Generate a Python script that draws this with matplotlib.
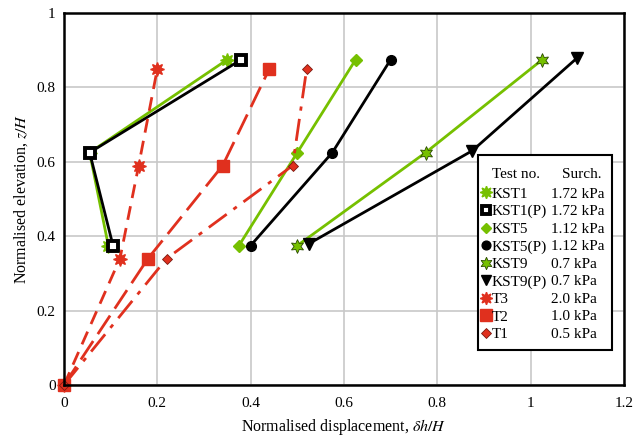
import matplotlib
matplotlib.use("Agg")
import matplotlib.pyplot as plt
from matplotlib.lines import Line2D
from matplotlib.patches import Rectangle

plt.rcParams['font.family'] = ['Liberation Serif', 'DejaVu Serif']
plt.rcParams['mathtext.fontset'] = 'stix'

GREEN = '#76c000'
RED = '#e0301e'
W, H = 643, 436

# series data (normalised displacement, normalised elevation)
kst1_x = [0.095, 0.055, 0.35]
kst1_y = [0.375, 0.625, 0.875]
kst1p_x = [0.105, 0.055, 0.38]
kst1p_y = [0.375, 0.625, 0.875]
kst5_x = [0.375, 0.50, 0.625]
kst5_y = [0.375, 0.625, 0.875]
kst5p_x = [0.40, 0.575, 0.70]
kst5p_y = [0.375, 0.625, 0.875]
kst9_x = [0.50, 0.775, 1.025]
kst9_y = [0.375, 0.625, 0.875]
kst9p_x = [0.525, 0.875, 1.10]
kst9p_y = [0.38, 0.63, 0.88]
t3_x = [0.0, 0.12, 0.16, 0.20]
t3_y = [0.0, 0.34, 0.59, 0.85]
t2_x = [0.0, 0.18, 0.34, 0.44]
t2_y = [0.0, 0.34, 0.59, 0.85]
t1_x = [0.0, 0.22, 0.49, 0.52]
t1_y = [0.0, 0.34, 0.59, 0.85]

names = ['KST1', 'KST1(P)', 'KST5', 'KST5(P)', 'KST9', 'KST9(P)', 'T3', 'T2', 'T1']
surch = ['1.72 kPa', '1.72 kPa', '1.12 kPa', '1.12 kPa', '0.7 kPa', '0.7 kPa',
         '2.0 kPa', '1.0 kPa', '0.5 kPa']

fig = plt.figure(figsize=(W / 100, H / 100), dpi=100)
ax = fig.add_axes([0.0995, 0.117, 0.871, 0.853])

styles = [
    dict(color=GREEN, marker=(8, 1, 0), ms=10, mfc=GREEN, mec=GREEN, ls='-'),
    dict(color='black', marker='s', ms=7, mfc='white', mec='black', mew=2.8, ls='-'),
    dict(color=GREEN, marker='D', ms=6, mfc=GREEN, mec=GREEN, ls='-'),
    dict(color='black', marker='o', ms=7, mfc='black', mec='black', ls='-'),
    dict(color=GREEN, marker=(6, 1, 0), ms=10, mfc=GREEN, mec='#2a4a00', mew=0.6, ls='-'),
    dict(color='black', marker='v', ms=8, mfc='black', mec='black', ls='-'),
    dict(color=RED, marker=(8, 1, 0), ms=10, mfc=RED, mec=RED, ls=(0, (5, 3))),
    dict(color=RED, marker='s', ms=9, mfc=RED, mec=RED, ls=(0, (8, 3))),
    dict(color=RED, marker='D', ms=5.5, mfc=RED, mec='#7a1a10', mew=0.6, ls=(0, (8, 3, 1.5, 3))),
]
xs = [kst1_x, kst1p_x, kst5_x, kst5p_x, kst9_x, kst9p_x, t3_x, t2_x, t1_x]
ys = [kst1_y, kst1p_y, kst5_y, kst5p_y, kst9_y, kst9p_y, t3_y, t2_y, t1_y]

for x, y, st in zip(xs, ys, styles):
    ax.plot(x, y, lw=2, zorder=3, clip_on=False, **st)

ax.set_xlim(0, 1.2)
ax.set_ylim(0, 1)
ax.set_xticks([0, 0.2, 0.4, 0.6, 0.8, 1, 1.2])
ax.set_xticklabels(['0', '0.2', '0.4', '0.6', '0.8', '1', '1.2'])
ax.set_yticks([0, 0.2, 0.4, 0.6, 0.8, 1])
ax.set_yticklabels(['0', '0.2', '0.4', '0.6', '0.8', '1'])
ax.tick_params(length=0, labelsize=11)
ax.tick_params(axis='x', pad=9)
ax.tick_params(axis='y', pad=6)
ax.grid(True, color='#c8c8c8', lw=1.2, zorder=0)
ax.set_axisbelow(True)
for s in ax.spines.values():
    s.set_linewidth(1.8)
    s.set_zorder(4)

ax.set_xlabel(r'Normalised displacement, $\delta h/H$', fontsize=11.5, labelpad=5)
ax.set_ylabel(r'Normalised elevation, $z/H$', fontsize=11.5, labelpad=5)

# legend box drawn by hand, entries as a two-column legend without frame
box = Rectangle((478 / W, 1 - 350 / H), 134 / W, 195 / H, transform=fig.transFigure,
                facecolor='white', edgecolor='black', lw=1.5, zorder=4.5, clip_on=False)
ax.add_patch(box)
fig.text(492 / W, 1 - 174 / H, 'Test no.', fontsize=11, va='center', ha='left', zorder=6)
fig.text(562 / W, 1 - 174 / H, 'Surch.', fontsize=11, va='center', ha='left', zorder=6)

handles = []
for st in styles:
    handles.append(Line2D([], [], ls='none', marker=st['marker'], ms=st['ms'] * 0.9,
                          mfc=st['mfc'], mec=st['mec'], mew=st.get('mew', 1)))
blank = [Line2D([], [], ls='none') for _ in surch]
leg = ax.legend(handles + blank, names + surch, ncol=2,
                loc='upper left', bbox_to_anchor=(482 / W, 1 - 187 / H),
                bbox_transform=fig.transFigure, borderaxespad=0, borderpad=0,
                fontsize=11, handlelength=0.5, handletextpad=0.12, columnspacing=-0.35,
                labelspacing=0.25, frameon=False)
leg.set_zorder(5)

fig.savefig('out.png', dpi=100)
